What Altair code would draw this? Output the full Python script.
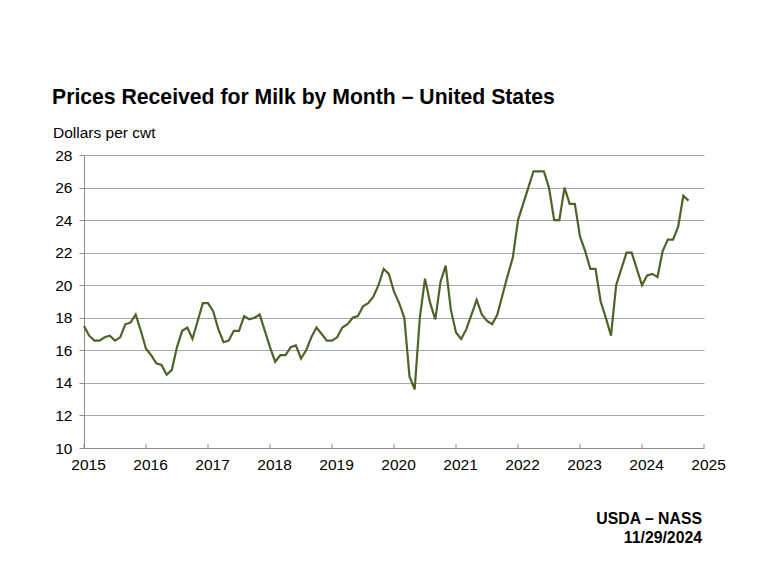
import altair as alt
import pandas as pd

years = list(range(2015, 2025))
p2015 = [17.5, 16.9, 16.6, 16.6, 16.8, 16.9, 16.6, 16.8, 17.6, 17.7, 18.2, 17.2]
p2016 = [16.1, 15.7, 15.2, 15.1, 14.5, 14.8, 16.2, 17.2, 17.4, 16.7, 17.8, 18.9]
p2017 = [18.9, 18.4, 17.3, 16.5, 16.6, 17.2, 17.2, 18.1, 17.9, 18.0, 18.2, 17.2]
p2018 = [16.2, 15.3, 15.7, 15.7, 16.2, 16.3, 15.5, 16.0, 16.8, 17.4, 17.0, 16.6]
p2019 = [16.6, 16.8, 17.4, 17.6, 18.0, 18.1, 18.7, 18.9, 19.3, 20.0, 21.0, 20.7]
p2020 = [19.6, 18.9, 18.0, 14.4, 13.6, 18.0, 20.4, 18.9, 17.9, 20.2, 21.2, 18.5]
p2021 = [17.1, 16.7, 17.3, 18.2, 19.1, 18.2, 17.8, 17.6, 18.2, 19.4, 20.6, 21.7]
p2022 = [24.0, 25.0, 26.0, 27.0, 27.0, 27.0, 26.0, 24.0, 24.0, 26.0, 25.0, 25.0]
p2023 = [23.0, 22.1, 21.0, 21.0, 19.0, 18.0, 16.9, 20.0, 21.0, 22.0, 22.0, 21.0]
p2024 = [20.0, 20.6, 20.7, 20.5, 22.1, 22.8, 22.8, 23.6, 25.5, 25.2]

series = [p2015, p2016, p2017, p2018, p2019, p2020, p2021, p2022, p2023, p2024]
x_ticks = list(range(2015, 2026))
y_ticks = list(range(10, 29, 2))

rows = []
for yr, vals in zip(years, series):
    for m, v in enumerate(vals):
        rows.append({"t": yr + m / 12.0, "price": v})
df = pd.DataFrame(rows)
tick_df = pd.DataFrame({"t": x_ticks})

FONT = "Liberation Sans"
W, H = 620, 293
AXC = "#8C8C8C"

xscale = alt.Scale(domain=[2015, 2025], nice=False)

line = alt.Chart(df).mark_line(color="#4F6228", strokeWidth=2.2).encode(
    x=alt.X("t:Q", scale=xscale,
            axis=alt.Axis(values=x_ticks, format="d", title=None, grid=False,
                          domainColor=AXC, ticks=False, labelFlush=False,
                          labelFont=FONT, labelFontSize=15.5, labelColor="#000000",
                          labelPadding=9, labelOffset=4)),
    y=alt.Y("price:Q", scale=alt.Scale(domain=[10, 28], nice=False),
            axis=alt.Axis(values=y_ticks, title=None, grid=True, gridColor="#A6A6A6",
                          domainColor=AXC, tickColor=AXC, tickSize=5,
                          labelFont=FONT, labelFontSize=15.5, labelColor="#000000",
                          labelPadding=7, labelFlush=False)),
)

xticks = alt.Chart(tick_df).mark_rule(color=AXC, strokeWidth=1).encode(
    x=alt.X("t:Q", scale=xscale),
    y=alt.value(H - 4), y2=alt.value(H),
)

def txt(s, x, y, size, bold=False, align="left"):
    return alt.Chart(pd.DataFrame({"s": [s]})).mark_text(
        align=align, baseline="alphabetic", font=FONT, fontSize=size,
        fontWeight="bold" if bold else "normal", color="#000000"
    ).encode(text="s:N", x=alt.value(x), y=alt.value(y))

title = txt("Prices Received for Milk by Month – United States", -32, -51, 21.2, bold=True)
ylab = txt("Dollars per cwt", -31, -17, 15.5)
foot1 = txt("USDA – NASS", 618, 369, 15.8, bold=True, align="right")
foot2 = txt("11/29/2024", 618, 388, 15.8, bold=True, align="right")

chart = alt.layer(line, xticks, title, ylab, foot1, foot2).properties(
    width=W, height=H,
    autosize=alt.AutoSizeParams(type="none"),
    padding={"left": 76, "top": 147, "right": 40, "bottom": 100},
    background="#FFFFFF",
).configure_view(stroke=None)

chart.save("out.html", embed_options={"renderer": "svg", "actions": False})
